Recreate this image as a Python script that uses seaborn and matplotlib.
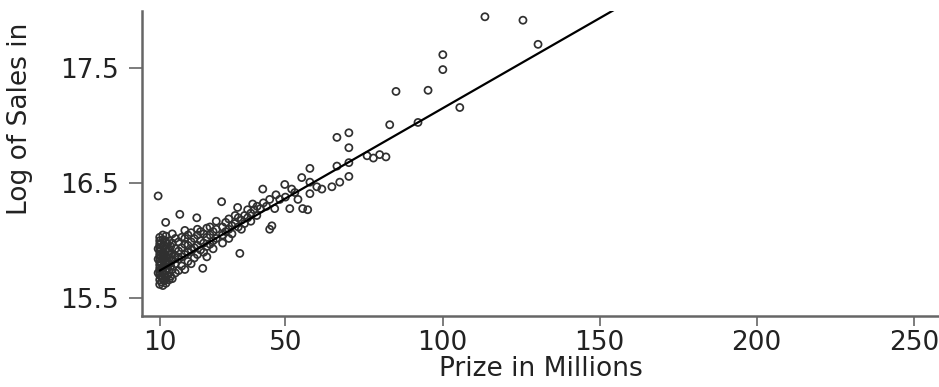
import numpy as np
import pandas as pd
import matplotlib
matplotlib.use('Agg')
import matplotlib.pyplot as plt
import seaborn as sns

# values: prize (millions) and log of sales
prize = [10, 10, 10, 10, 10, 10, 10, 10, 10, 10, 10, 10, 10, 10,
         10.5, 10.5, 10.5, 10.5, 10.5, 10.5, 10.5,
         11, 11, 11, 11, 11, 11, 11, 11, 11, 11,
         11.5, 11.5, 11.5, 11.5, 11.5, 11.5,
         12, 12, 12, 12, 12, 12, 12, 12, 12,
         9.5, 9.5, 9.5, 9.5,
         12.5, 12.5, 12.5, 12.5, 12.5,
         13, 13, 13, 13, 13, 13,
         13.5, 13.5, 13.5, 13.5,
         14, 14, 14, 14, 14, 14,
         15, 15, 15, 15, 15,
         16, 16, 16, 16, 16.4,
         17, 17, 17, 17,
         18, 18, 18, 18, 18,
         19, 19, 19, 19,
         20, 20, 20, 20,
         21.8, 11.9,
         21, 21, 21,
         22, 22, 22, 22,
         23.7, 23, 23, 23,
         24, 24, 24,
         25, 25, 25, 25,
         26, 26, 26,
         27, 27, 27,
         28, 28, 28,
         29.7, 30, 30, 30,
         31, 31,
         32, 32, 32,
         33, 33,
         34.8, 34, 34,
         35.5, 35, 35,
         36, 36,
         37, 37,
         38, 38,
         39.6, 39, 39,
         40.9, 40, 41,
         42.8, 42, 43,
         45, 44, 45,
         45.7, 46.6, 48.2, 49.8, 51.4, 52, 54, 55.5, 57.1, 57.8, 57.8, 60,
         61.6, 64.8, 67.3, 55.2, 70.2, 57.8, 66.4, 70.2, 70.2, 66.4, 70.2,
         47, 50, 53,
         76, 78, 80, 82,
         83.2, 92.2, 85.2, 95.4, 105.5, 100.1, 100.1, 113.5, 125.6, 130.4]
log_sales = [15.62, 15.66, 15.70, 15.73, 15.76, 15.79, 15.82, 15.85, 15.88, 15.91, 15.94, 15.97, 16.00, 16.03,
             15.64, 15.69, 15.75, 15.80, 15.86, 15.92, 15.98,
             15.61, 15.67, 15.72, 15.77, 15.83, 15.87, 15.90, 15.95, 16.01, 16.05,
             15.65, 15.71, 15.78, 15.84, 15.89, 15.96,
             15.63, 15.68, 15.74, 15.79, 15.81, 15.86, 15.93, 15.99, 16.04,
             15.72, 15.84, 15.93, 16.39,
             15.70, 15.76, 15.82, 15.90, 15.97,
             15.66, 15.73, 15.80, 15.85, 15.91, 16.00,
             15.69, 15.78, 15.88, 15.95,
             15.67, 15.75, 15.83, 15.89, 15.98, 16.06,
             15.72, 15.80, 15.87, 15.93, 16.02,
             15.74, 15.84, 15.91, 15.99, 16.23,
             15.78, 15.86, 15.94, 16.03,
             15.75, 15.88, 15.97, 16.02, 16.09,
             15.82, 15.90, 15.96, 16.05,
             15.80, 15.92, 15.99, 16.07,
             16.20, 16.16,
             15.85, 15.94, 16.02,
             15.88, 15.96, 16.05, 16.10,
             15.76, 15.92, 16.00, 16.08,
             15.90, 15.98, 16.06,
             15.95, 16.03, 16.11, 15.86,
             15.97, 16.05, 16.12,
             16.00, 16.08, 15.93,
             16.02, 16.10, 16.17,
             16.34, 16.05, 16.12, 15.98,
             16.08, 16.16,
             16.10, 16.02, 16.19,
             16.13, 16.06,
             16.29, 16.15, 16.22,
             15.89, 16.12, 16.20,
             16.18, 16.10,
             16.22, 16.15,
             16.20, 16.27,
             16.32, 16.24, 16.17,
             16.22, 16.27, 16.30,
             16.45, 16.28, 16.33,
             16.10, 16.30, 16.36,
             16.13, 16.28, 16.36, 16.49, 16.28, 16.45, 16.36, 16.28, 16.27, 16.41, 16.51, 16.47,
             16.45, 16.47, 16.51, 16.55, 16.56, 16.63, 16.65, 16.68, 16.81, 16.90, 16.94,
             16.40, 16.38, 16.42,
             16.74, 16.72, 16.75, 16.73,
             17.01, 17.03, 17.30, 17.31, 17.16, 17.49, 17.62, 17.95, 17.92, 17.71]

# fitted line
fit_prize = [10, 175]
fit_sales = [15.74, 18.33]

df = pd.DataFrame({'prize': prize, 'log_sales': log_sales})
fit = pd.DataFrame({'prize': fit_prize, 'log_sales': fit_sales})

sns.set_style('ticks')
plt.rcParams['font.family'] = ['DejaVu Sans']

fig = plt.figure(figsize=(9.39, 3.87), dpi=100)
ax = fig.add_axes([0.151, 0.1835, 0.849, 0.788])

sns.scatterplot(data=df, x='prize', y='log_sales', ax=ax, s=26,
                facecolor='none', edgecolor='#303030', linewidth=1.25)
sns.lineplot(data=fit, x='prize', y='log_sales', ax=ax, color='black', linewidth=1.6)

ax.set_xlim(4.3, 258)
ax.set_ylim(15.345, 18.0)
ax.set_xticks([10, 50, 100, 150, 200, 250])
ax.set_yticks([15.5, 16.5, 17.5])
ax.set_yticklabels(['15.5', '16.5', '17.5'])
ax.tick_params(labelsize=19, width=1.2, color='#666666', labelcolor='#222222')
ax.tick_params(axis='x', length=7, pad=3)
ax.tick_params(axis='y', length=9.5, pad=7)
for side in ['left', 'bottom']:
    ax.spines[side].set_color('#666666')
    ax.spines[side].set_linewidth(1.8)
sns.despine(ax=ax)

ax.set_xlabel('Prize in Millions', fontsize=19, color='#222222', labelpad=0)
ax.set_ylabel('Log of Sales in', fontsize=19, color='#222222')
ax.yaxis.set_label_coords(-0.137, 0.646)

fig.savefig('out.png', dpi=100)
